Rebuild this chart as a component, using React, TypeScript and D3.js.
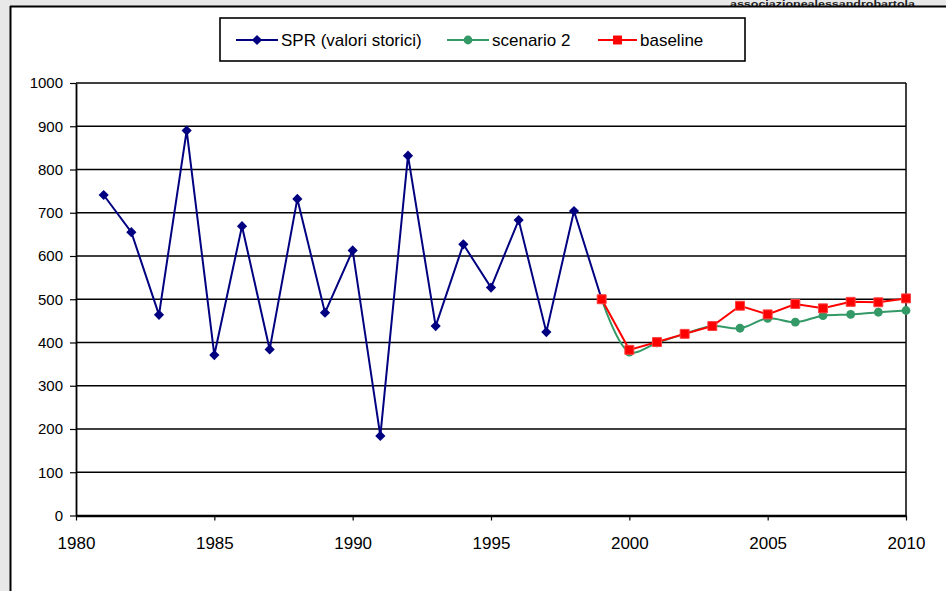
import React, { useEffect, useRef } from 'react';
import * as d3 from 'd3';

// historic SPR values
const sprYears = [1981, 1982, 1983, 1984, 1985, 1986, 1987, 1988, 1989, 1990, 1991, 1992, 1993, 1994, 1995, 1996, 1997, 1998, 1999];
const sprValues = [741, 655, 464, 890, 371, 669, 384, 732, 469, 613, 184, 832, 438, 627, 527, 683, 424, 704, 500];

// projections
const scenYears = [1999, 2000, 2001, 2002, 2003, 2004, 2005, 2006, 2007, 2008, 2009, 2010];
const scenario2 = [500, 378, 399, 420, 438, 433, 456, 447, 462, 465, 470, 474];
const baseline = [500, 383, 401, 420, 438, 485, 465, 489, 479, 494, 493, 502];

const xTicks = [1980, 1985, 1990, 1995, 2000, 2005, 2010];
const yTicks = [0, 100, 200, 300, 400, 500, 600, 700, 800, 900, 1000];

const FONT = '"Liberation Sans", Arial, sans-serif';
const NAVY = '#000080';
const GREEN = '#339966';
const RED = '#ff0000';

const App: React.FC = () => {
  const svgRef = useRef<SVGSVGElement | null>(null);

  useEffect(() => {
    if (!svgRef.current) return;
    const svg = d3.select(svgRef.current);
    svg.selectAll('*').remove();

    const width = 946;
    const height = 591;

    // outer frame
    svg.append('rect').attr('width', width).attr('height', height).attr('fill', '#e8e8e8');
    svg.append('rect').attr('x', 10).attr('y', 6).attr('width', width - 10).attr('height', height - 6).attr('fill', '#fff');

    svg.append('text')
      .attr('x', 730)
      .attr('y', 7)
      .attr('textLength', 185)
      .attr('lengthAdjust', 'spacingAndGlyphs')
      .attr('font-family', FONT)
      .attr('font-size', 9)
      .attr('font-weight', 'bold')
      .attr('fill', '#222')
      .text('associazionealessandrobartola');

    svg.append('line').attr('x1', 10).attr('x2', width).attr('y1', 6.5).attr('y2', 6.5).attr('stroke', '#000').attr('stroke-width', 2);
    svg.append('line').attr('x1', 10.5).attr('x2', 10.5).attr('y1', 6).attr('y2', height).attr('stroke', '#000').attr('stroke-width', 2);

    const x = d3.scaleLinear().domain([1980, 2010]).range([76, 906]);
    const y = d3.scaleLinear().domain([0, 1000]).range([515.5, 83]);

    // gridlines
    svg.append('g')
      .selectAll('line')
      .data(yTicks.filter(t => t > 0))
      .join('line')
      .attr('x1', x(1980))
      .attr('x2', x(2010))
      .attr('y1', d => y(d))
      .attr('y2', d => y(d))
      .attr('stroke', '#000')
      .attr('stroke-width', 1.5);

    // right plot border
    svg.append('line')
      .attr('x1', x(2010)).attr('x2', x(2010))
      .attr('y1', y(1000)).attr('y2', y(0))
      .attr('stroke', '#000').attr('stroke-width', 1.5);

    // y axis
    const yAxis = svg.append('g')
      .attr('transform', `translate(${x(1980)},0)`)
      .call(d3.axisLeft(y).tickValues(yTicks).tickFormat(d3.format('d')).tickSize(6).tickPadding(7).tickSizeOuter(0));
    yAxis.select('.domain').attr('stroke-width', 1.8);
    yAxis.selectAll('.tick line').attr('stroke-width', 1.2);
    yAxis.selectAll('text').attr('font-family', FONT).attr('font-size', 15).attr('fill', '#000');

    // x axis
    const xAxis = svg.append('g')
      .attr('transform', `translate(0,${y(0)})`)
      .call(d3.axisBottom(x).tickValues(xTicks).tickFormat(d3.format('d')).tickSize(5).tickPadding(16).tickSizeOuter(0));
    xAxis.select('.domain').attr('stroke-width', 2.4);
    xAxis.selectAll('.tick line').attr('stroke-width', 1.2);
    xAxis.selectAll('text').attr('font-family', FONT).attr('font-size', 17).attr('fill', '#000');

    const lineGen = (yrs: number[], curve: d3.CurveFactory) =>
      d3.line<number>()
        .x((_, i) => x(yrs[i]))
        .y(d => y(d))
        .curve(curve);

    const diamond = d3.symbol().type(d3.symbolSquare).size(52);
    const square = d3.symbol().type(d3.symbolSquare).size(80);

    // SPR historic
    svg.append('path')
      .datum(sprValues)
      .attr('d', lineGen(sprYears, d3.curveLinear))
      .attr('fill', 'none')
      .attr('stroke', NAVY)
      .attr('stroke-width', 2);

    // scenario 2
    svg.append('path')
      .datum(scenario2)
      .attr('d', lineGen(scenYears, d3.curveCatmullRom))
      .attr('fill', 'none')
      .attr('stroke', GREEN)
      .attr('stroke-width', 2);
    svg.append('g')
      .selectAll('circle')
      .data(scenario2)
      .join('circle')
      .attr('cx', (_, i) => x(scenYears[i]))
      .attr('cy', d => y(d))
      .attr('r', 4.4)
      .attr('fill', GREEN);

    // SPR markers on top of scenario 2
    svg.append('g')
      .selectAll('path')
      .data(sprValues)
      .join('path')
      .attr('d', diamond)
      .attr('transform', (d, i) => `translate(${x(sprYears[i])},${y(d)}) rotate(45)`)
      .attr('fill', NAVY);

    // baseline
    svg.append('path')
      .datum(baseline)
      .attr('d', lineGen(scenYears, d3.curveLinear))
      .attr('fill', 'none')
      .attr('stroke', RED)
      .attr('stroke-width', 2);
    svg.append('g')
      .selectAll('path')
      .data(baseline)
      .join('path')
      .attr('d', square)
      .attr('transform', (d, i) => `translate(${x(scenYears[i])},${y(d)})`)
      .attr('fill', RED)
      .attr('stroke', '#ff4040')
      .attr('stroke-width', 1);

    // legend
    const legend = svg.append('g');
    legend.append('rect')
      .attr('x', 220).attr('y', 18).attr('width', 525).attr('height', 43)
      .attr('fill', '#fff').attr('stroke', '#000').attr('stroke-width', 1.6);

    const items = [
      { label: 'SPR (valori storici)', color: NAVY, x0: 236, x1: 278, mark: 'diamond' },
      { label: 'scenario 2', color: GREEN, x0: 447, x1: 489, mark: 'circle' },
      { label: 'baseline', color: RED, x0: 598, x1: 637, mark: 'square' },
    ];
    const ly = 40;
    items.forEach(it => {
      legend.append('line')
        .attr('x1', it.x0).attr('x2', it.x1).attr('y1', ly).attr('y2', ly)
        .attr('stroke', it.color).attr('stroke-width', 2);
      const cx = (it.x0 + it.x1) / 2;
      if (it.mark === 'circle') {
        legend.append('circle').attr('cx', cx).attr('cy', ly).attr('r', 4.4).attr('fill', it.color);
      } else {
        legend.append('path')
          .attr('d', it.mark === 'diamond' ? diamond : square)
          .attr('transform', `translate(${cx},${ly})${it.mark === 'diamond' ? ' rotate(45)' : ''}`)
          .attr('fill', it.color);
      }
      legend.append('text')
        .attr('x', it.x1 + 3)
        .attr('y', ly + 6)
        .attr('font-family', FONT)
        .attr('font-size', 17)
        .attr('fill', '#000')
        .text(it.label);
    });
  }, []);

  return (
    <div style={{ position: 'absolute', left: 0, top: 0 }}>
      <svg ref={svgRef} width={946} height={591} style={{ display: 'block' }} />
    </div>
  );
};

export default App;
